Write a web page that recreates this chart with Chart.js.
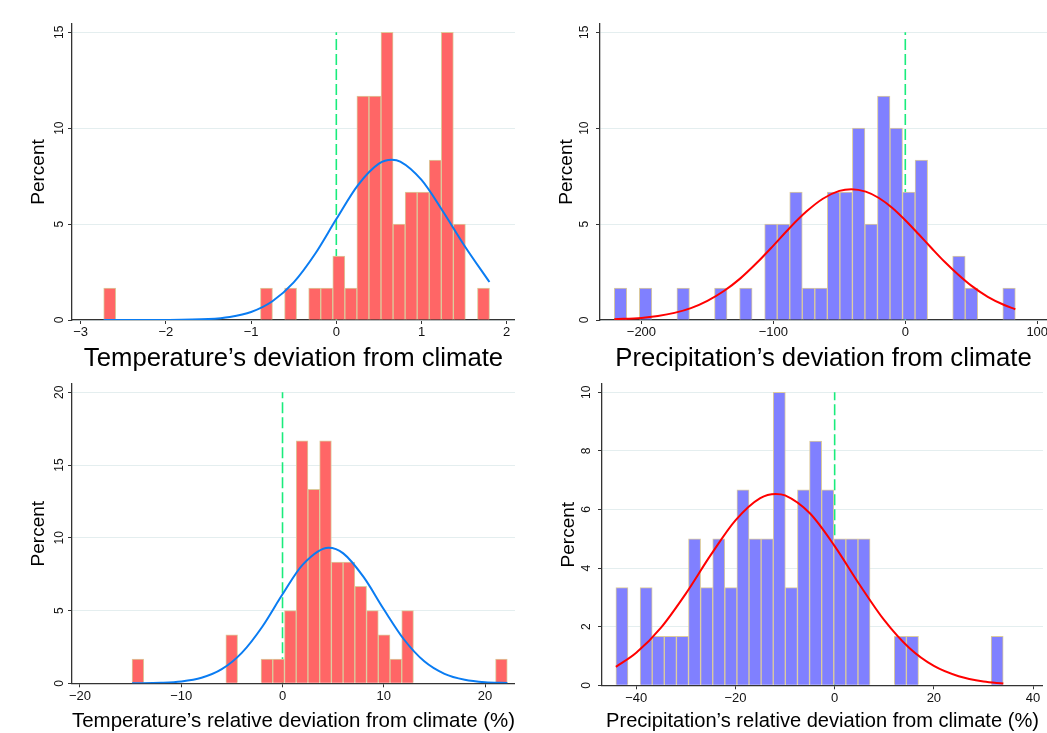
<!DOCTYPE html>
<html lang="en">
<head>
<meta charset="UTF-8">
<title>Deviation from climate</title>
<script src="https://cdn.jsdelivr.net/npm/chart.js"></script>
<style>
    body { margin: 0; background: #fff; }
    #wrap { position: relative; width: 1047px; height: 733px; overflow: hidden; }
    canvas { position: absolute; }
</style>
</head>
<body>
<div id="wrap">
    <canvas id="c1" width="515" height="380" style="left:0;top:0"></canvas>
    <canvas id="c2" width="519" height="380" style="left:528px;top:0"></canvas>
    <canvas id="c3" width="515" height="373" style="left:0;top:360px"></canvas>
    <canvas id="c4" width="513" height="373" style="left:530px;top:360px"></canvas>
</div>
<script>
// histogram bins: first edge, bin width, percent in each of the 32 bins
const tempStart = -2.73, tempWidth = 0.1415;
const tempPct = [1.67, 0, 0, 0, 0, 0, 0, 0, 0, 0, 0, 0, 0, 1.67, 0, 1.67, 0, 1.67, 1.67, 3.33, 1.67, 11.67, 11.67, 15, 5, 6.67, 6.67, 8.33, 15, 5, 0, 1.67];
const precStart = -220.6, precWidth = 9.5;
const precPct = [1.67, 0, 1.67, 0, 0, 1.67, 0, 0, 1.67, 0, 1.67, 0, 5, 5, 6.67, 1.67, 1.67, 6.67, 6.67, 10, 5, 11.67, 10, 6.67, 8.33, 0, 0, 3.33, 1.67, 0, 0, 1.67];
const tempRelStart = -14.86, tempRelWidth = 1.158;
const tempRelPct = [1.67, 0, 0, 0, 0, 0, 0, 0, 3.33, 0, 0, 1.67, 1.67, 5, 16.67, 13.33, 16.67, 8.33, 8.33, 6.67, 5, 3.33, 1.67, 5, 0, 0, 0, 0, 0, 0, 0, 1.67];
const precRelStart = -44.1, precRelWidth = 2.44;
const precRelPct = [3.33, 0, 3.33, 1.67, 1.67, 1.67, 5, 3.33, 5, 3.33, 6.67, 5, 5, 10, 3.33, 6.67, 8.33, 6.67, 5, 5, 5, 0, 0, 1.67, 1.67, 0, 0, 0, 0, 0, 0, 1.67];

// fitted normal curves
const tempCurveX = [-2.73, -2, -1.5, -1.25, -1, -0.75, -0.5, -0.25, 0, 0.25, 0.5, 0.65, 0.75, 1, 1.25, 1.5, 1.797];
const tempCurveY = [0, 0.004, 0.05, 0.16, 0.42, 0.98, 1.96, 3.44, 5.26, 7.01, 8.15, 8.35, 8.26, 7.3, 5.67, 3.9, 1.98];
const precCurveX = [-220.6, -200, -187.5, -175, -162.5, -150, -137.5, -125, -112.5, -100, -87.5, -75, -62.5, -50, -40.9, -30, -20, -10, 0, 10, 20, 30, 40, 50, 62.5, 75, 83.4];
const precCurveY = [0.04, 0.11, 0.21, 0.37, 0.62, 1.0, 1.51, 2.17, 2.98, 3.88, 4.81, 5.65, 6.32, 6.73, 6.82, 6.69, 6.36, 5.85, 5.2, 4.48, 3.74, 3.02, 2.37, 1.79, 1.21, 0.78, 0.56];
const tempRelCurveX = [-14.86, -12, -10, -8, -6, -4, -2, 0, 2, 4.55, 6, 8, 10, 12, 14, 16, 18, 20, 22.21];
const tempRelCurveY = [0, 0.035, 0.125, 0.38, 0.97, 2.11, 3.89, 6.12, 8.16, 9.32, 8.93, 7.31, 5.09, 3.01, 1.51, 0.65, 0.24, 0.07, 0.02];
const precRelCurveX = [-44.1, -40, -35, -30, -25, -20, -15, -11.9, -10, -5, 0, 5, 10, 15, 20, 25, 30, 34];
const precRelCurveY = [0.63, 1.11, 1.97, 3.13, 4.44, 5.63, 6.39, 6.53, 6.48, 5.87, 4.75, 3.44, 2.22, 1.28, 0.66, 0.31, 0.13, 0.06];

// axis titles and tick steps
const xTitles = ['Temperature\u2019s deviation from climate', 'Precipitation\u2019s deviation from climate',
    'Temperature\u2019s relative deviation from climate (%)', 'Precipitation\u2019s relative deviation from climate (%)'];
const xSteps = [1, 100, 10, 20];
const ySteps = [5, 5, 5, 2];
const yTops = [15, 15, 20, 10];   // reference line x = 0 runs up to the top tick

const FONT = "'Liberation Sans', Arial, sans-serif";
const RED = '#ff6666', BLUE = '#8080ff';

const panels = [
    { id: 'c1', start: tempStart, width: tempWidth, pct: tempPct, cx: tempCurveX, cy: tempCurveY,
      fill: RED, line: '#0a7cf2', xMin: -3.102, xMax: 2.097, yMax: 15.43,
      xAxisH: 60, titleSize: 25.7, titlePad: 8, yTickPad: 1.6 },
    { id: 'c2', start: precStart, width: precWidth, pct: precPct, cx: precCurveX, cy: precCurveY,
      fill: BLUE, line: '#ff0000', xMin: -231.4, xMax: 107.4, yMax: 15.43,
      xAxisH: 60, titleSize: 25.7, titlePad: 8, yTickPad: 5 },
    { id: 'c3', start: tempRelStart, width: tempRelWidth, pct: tempRelPct, cx: tempRelCurveX, cy: tempRelCurveY,
      fill: RED, line: '#0a7cf2', xMin: -20.79, xMax: 22.96, yMax: 20.57,
      xAxisH: 49.7, titleSize: 20.9, titlePad: 1.1, yTickPad: 1.6 },
    { id: 'c4', start: precRelStart, width: precRelWidth, pct: precRelPct, cx: precRelCurveX, cy: precRelCurveY,
      fill: BLUE, line: '#ff0000', xMin: -46.9, xMax: 42.0, yMax: 10.28,
      xAxisH: 47.7, titleSize: 20.1, titlePad: 1.5, yTickPad: 5 }
];

const minus = v => String(v).replace('-', '\u2212');

panels.forEach((p, n) => {
    const bars = p.pct.map((v, i) => ({ x: p.start + p.width * (i + 0.5), y: v || null }));
    const curve = p.cx.map((x, i) => ({ x: x, y: p.cy[i] }));
    const ref = [{ x: 0, y: 0 }, { x: 0, y: yTops[n] }];

    new Chart(document.getElementById(p.id), {
        type: 'bar',
        data: {
            datasets: [
                { type: 'line', data: ref, borderColor: '#19ec7c', borderWidth: 1.6, borderDash: [11, 4],
                  pointRadius: 0, order: 3 },
                { data: bars, backgroundColor: p.fill, borderColor: '#dccb9c', borderWidth: 1,
                  barPercentage: 1, categoryPercentage: 1, order: 2 },
                { type: 'line', data: curve, borderColor: p.line, borderWidth: 2, pointRadius: 0,
                  cubicInterpolationMode: 'monotone', order: 1 }
            ]
        },
        options: {
            responsive: false,
            animation: false,
            layout: { padding: { top: 24, left: 0, right: 0, bottom: 0 } },
            plugins: { legend: { display: false }, tooltip: { enabled: false } },
            scales: {
                x: {
                    type: 'linear', offset: false, min: p.xMin, max: p.xMax,
                    grid: { offset: false, drawOnChartArea: false, drawTicks: true, tickLength: 4, tickColor: '#333' },
                    border: { display: true, color: '#333', width: 1.3 },
                    ticks: { stepSize: xSteps[n], includeBounds: false, padding: 1, maxRotation: 0, autoSkip: false,
                             color: '#111', font: { family: FONT, size: 13 }, callback: minus },
                    title: { display: true, text: xTitles[n], color: '#000',
                             font: { family: FONT, size: p.titleSize, lineHeight: 1 },
                             padding: { top: 0, bottom: p.titlePad } },
                    afterFit: s => { s.height = p.xAxisH; s.paddingLeft = 0; s.paddingRight = 0; }
                },
                y: {
                    min: 0, max: p.yMax,
                    grid: { color: '#e4eeef', lineWidth: 1, drawTicks: true, tickLength: 4, tickColor: '#333' },
                    border: { display: true, color: '#333', width: 1.3 },
                    ticks: { stepSize: ySteps[n], includeBounds: false, minRotation: 90, maxRotation: 90,
                             crossAlign: 'center', padding: p.yTickPad, color: '#111',
                             font: { family: FONT, size: 12 }, callback: minus },
                    title: { display: true, text: 'Percent', color: '#000',
                             font: { family: FONT, size: 19, lineHeight: 1 },
                             padding: { top: 29, bottom: 0 } },
                    afterFit: s => { s.width = 72; s.paddingTop = 0; s.paddingBottom = 0; }
                }
            }
        }
    });
});
</script>
</body>
</html>
